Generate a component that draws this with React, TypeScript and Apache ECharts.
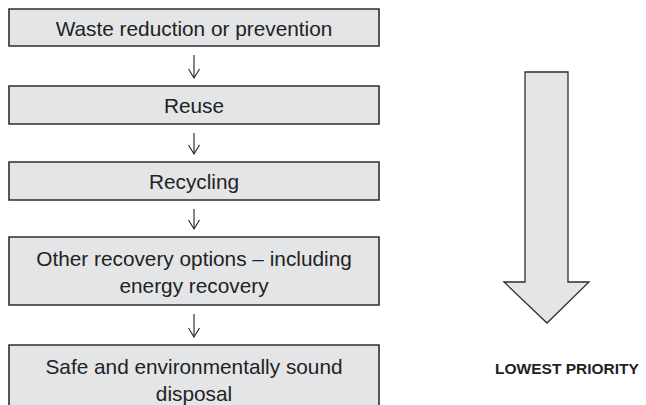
import React, { useEffect, useRef } from "react";
import * as echarts from "echarts";

const steps: string[] = [
  "Waste reduction or prevention",
  "Reuse",
  "Recycling",
  "Other recovery options \u2013 including\nenergy recovery",
  "Safe and environmentally sound\ndisposal",
];
const priorityLabel = "LOWEST PRIORITY";

export default function App() {
  const ref = useRef<HTMLDivElement>(null);
  useEffect(() => {
    document.body.style.margin = "0";
    if (!ref.current) return;
    const chart = echarts.init(ref.current, null, { renderer: "svg" });
    const boxX = 9;
    const boxW = 370;
    const tops = [9, 86, 162, 237, 345];
    const heights = [37, 38, 38, 68, 68];
    const cx = boxX + boxW / 2;
    const fill = "#e4e5e7";
    const stroke = "#2e2e2e";
    const font = "'Liberation Sans', Arial, sans-serif";
    const elements: any[] = [];
    steps.forEach((label, i) => {
      elements.push({
        type: "rect",
        shape: { x: boxX, y: tops[i], width: boxW, height: heights[i] },
        style: { fill, stroke, lineWidth: 1.6 },
      });
      elements.push({
        type: "text",
        x: cx,
        y: tops[i] + heights[i] / 2 + 0.5,
        style: {
          text: label,
          fill: "#222",
          fontSize: 20.8,
          fontFamily: font,
          align: "center",
          verticalAlign: "middle",
          lineHeight: 27,
        },
      });
      if (i < steps.length - 1) {
        const y0 = tops[i] + heights[i] + 9;
        const y1 = tops[i + 1] - 8;
        elements.push({
          type: "line",
          shape: { x1: cx, y1: y0, x2: cx, y2: y1 },
          style: { stroke: "#222", lineWidth: 1.1 },
        });
        elements.push({
          type: "polyline",
          shape: { points: [[cx - 5.5, y1 - 9], [cx, y1], [cx + 5.5, y1 - 9]] },
          style: { stroke: "#222", lineWidth: 1.1, fill: "none" },
        });
      }
    });
    elements.push({
      type: "polygon",
      shape: {
        points: [
          [525, 72], [568, 72], [568, 282], [589, 282], [547, 323], [504, 282], [525, 282],
        ],
      },
      style: { fill, stroke, lineWidth: 1.3 },
    });
    elements.push({
      type: "text",
      x: 567,
      y: 368,
      style: {
        text: priorityLabel,
        fill: "#222",
        fontSize: 15.5,
        fontWeight: "bold",
        fontFamily: font,
        align: "center",
        verticalAlign: "middle",
      },
    });
    chart.setOption({ animation: false, graphic: { elements } });
    return () => chart.dispose();
  }, []);
  return <div ref={ref} style={{ width: 646, height: 405, background: "#fff" }} />;
}
